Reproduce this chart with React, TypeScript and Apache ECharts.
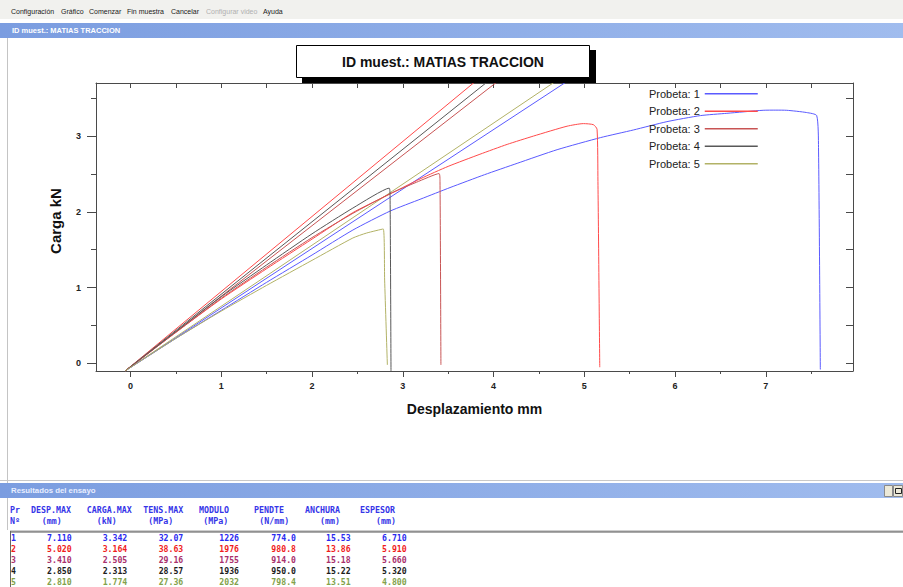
import React, { useEffect, useRef } from 'react';
import * as echarts from 'echarts';

// ---------- data ----------
const seriesNames = ['Probeta: 1', 'Probeta: 2', 'Probeta: 3', 'Probeta: 4', 'Probeta: 5'];
const seriesColors = ['#5a5aff', '#ff4a4a', '#c85454', '#585858', '#b2b266'];

// measured curves [displacement mm, load kN]
const curve1 = [[-0.06, -0.1], [0.5, 0.33], [1.0, 0.7], [1.5, 1.07], [2.0, 1.43], [2.45, 1.76], [2.86, 2.01], [3.2, 2.17], [3.52, 2.32], [3.9, 2.49], [4.26, 2.64], [4.7, 2.82], [5.18, 2.98], [5.54, 3.08], [5.91, 3.19], [6.28, 3.27], [6.57, 3.3], [6.97, 3.34], [7.11, 3.342], [7.23, 3.34], [7.45, 3.31], [7.56, 3.27], [7.58, 2.85], [7.6, -0.08]];
const curve2 = [[-0.06, -0.1], [0.5, 0.41], [1.0, 0.85], [1.5, 1.25], [2.0, 1.64], [2.45, 1.99], [2.8, 2.2], [3.2, 2.44], [3.5, 2.6], [3.85, 2.76], [4.15, 2.89], [4.44, 3.0], [4.81, 3.13], [4.99, 3.164], [5.1, 3.15], [5.14, 3.09], [5.15, 2.4], [5.17, -0.05]];
const curve3 = [[-0.06, -0.1], [0.5, 0.41], [1.0, 0.86], [1.5, 1.27], [2.0, 1.66], [2.45, 1.98], [2.86, 2.24], [3.15, 2.39], [3.4, 2.505], [3.41, 2.4], [3.42, -0.02]];
const curve4 = [[-0.06, -0.1], [0.5, 0.42], [1.0, 0.88], [1.5, 1.3], [2.0, 1.71], [2.45, 2.05], [2.85, 2.313], [2.86, 2.2], [2.87, -0.1]];
const curve5 = [[-0.06, -0.1], [0.5, 0.33], [1.0, 0.69], [1.5, 1.03], [2.0, 1.36], [2.45, 1.655], [2.6, 1.72], [2.785, 1.774], [2.8, 1.1], [2.83, -0.02]];
const curves = [curve1, curve2, curve3, curve4, curve5];

// slope (modulus) lines, start and a point beyond the top of the plot
const slope1 = [[-0.06, -0.1], [4.91, 3.8]];
const slope2 = [[-0.06, -0.1], [3.88, 3.8]];
const slope3 = [[-0.06, -0.1], [4.13, 3.8]];
const slope4 = [[-0.06, -0.1], [4.02, 3.8]];
const slope5 = [[-0.06, -0.1], [4.78, 3.8]];
const slopes = [slope1, slope2, slope3, slope4, slope5];

const xTicks = [0, 1, 2, 3, 4, 5, 6, 7];
const xMinorTicks = [0.5, 1.5, 2.5, 3.5, 4.5, 5.5, 6.5, 7.5];
const xTopTicks = [0, 0.5, 1, 1.5, 2, 2.5, 3, 3.5, 4, 4.5, 5, 5.5, 6, 6.5, 7, 7.5];
const yTicks = [0, 1, 2, 3];
const yMinorTicks = [0.5, 1.5, 2.5, 3.5];
const yRightTicks = [0, 0.5, 1, 1.5, 2, 2.5, 3, 3.5];

const chartTitle = 'ID muest.: MATIAS TRACCION';
const windowTitle = 'ID muest.: MATIAS TRACCION';
const xName = 'Desplazamiento mm';
const yName = 'Carga kN';
const menuItems = ['Configuración', 'Gráfico', 'Comenzar', 'Fin muestra', 'Cancelar', 'Configurar video', 'Ayuda'];
const menuEnabled = [true, true, true, true, true, false, true];
const resultsTitle = 'Resultados del ensayo';

const tableHead1 = ['Pr', 'DESP.MAX', 'CARGA.MAX', 'TENS.MAX', 'MODULO', 'PENDTE', 'ANCHURA', 'ESPESOR'];
const tableHead2 = ['Nº', '(mm)', '(kN)', '(MPa)', '(MPa)', '(N/mm)', '(mm)', '(mm)'];
const rowIds = ['1', '2', '3', '4', '5'];
const despMax = [7.11, 5.02, 3.41, 2.85, 2.81];
const cargaMax = [3.342, 3.164, 2.505, 2.313, 1.774];
const tensMax = [32.07, 38.63, 29.16, 28.57, 27.36];
const modulo = [1226, 1976, 1755, 1936, 2032];
const pendte = [774.0, 980.8, 914.0, 950.0, 798.4];
const anchura = [15.53, 13.86, 15.18, 15.22, 13.51];
const espesor = [6.71, 5.91, 5.66, 5.32, 4.8];
const tableColumns = [despMax, cargaMax, tensMax, modulo, pendte, anchura, espesor];
const columnDigits = [3, 3, 2, 0, 1, 2, 3];
const rowColors = ['#2a2af0', '#f01c1c', '#a8306c', '#1c1c1c', '#82a24a'];

// ---------- layout (positions only) ----------
const menuX = [11, 61, 89, 127, 171, 206, 263];
const head1X = [10, 31, 86.7, 143.3, 199, 254, 305, 360];
const head2X = [10, 41.7, 96.7, 148.3, 203.3, 259.3, 320, 376];
const colRightX = [71.7, 127.3, 183.3, 239, 296, 350.7, 406.7];
const rowY0 = 538;
const rowStep = 11;

export default function App() {
  const ref = useRef<HTMLDivElement>(null);

  useEffect(() => {
    if (!ref.current) return;
    const chart = echarts.init(ref.current, undefined, { renderer: 'svg' });

    const barGradient = () =>
      new echarts.graphic.LinearGradient(0, 0, 1, 0, [
        { offset: 0, color: '#7b9de0' },
        { offset: 1, color: '#a0bcee' },
      ]);

    const monoFont = 'DejaVu Sans Mono';
    const graphics: any[] = [];

    // menu bar
    graphics.push({ type: 'rect', shape: { x: 0, y: 0, width: 903, height: 19 }, style: { fill: '#f1f1ee' } });
    menuItems.forEach((m, i) => {
      graphics.push({
        type: 'text', x: menuX[i], y: 11,
        style: { text: m, fontSize: 7, fontFamily: 'Liberation Sans', fill: menuEnabled[i] ? '#1a1a1a' : '#b0b0b0', verticalAlign: 'middle', align: 'left' },
      });
    });
    // window title bar
    graphics.push({ type: 'rect', shape: { x: 0, y: 23, width: 903, height: 15 }, style: { fill: barGradient() } });
    graphics.push({
      type: 'text', x: 12, y: 30.5,
      style: { text: windowTitle, fontSize: 7.5, fontWeight: 'bold', fontFamily: 'Liberation Sans', fill: '#ffffff', verticalAlign: 'middle' },
    });
    // left window border
    graphics.push({ type: 'line', shape: { x1: 7.5, y1: 38, x2: 7.5, y2: 530 }, style: { stroke: '#c4c4c4', lineWidth: 1 } });

    // chart title box with shadow
    graphics.push({ type: 'rect', z: 100, shape: { x: 302, y: 50, width: 294, height: 33 }, style: { fill: '#000000' } });
    graphics.push({ type: 'rect', z: 101, shape: { x: 296.5, y: 45.5, width: 293, height: 32 }, style: { fill: '#ffffff', stroke: '#000000', lineWidth: 1 } });
    graphics.push({
      type: 'text', z: 102, x: 443, y: 62,
      style: { text: chartTitle, fontSize: 14, fontWeight: 'bold', fontFamily: 'Liberation Sans', fill: '#111111', align: 'center', verticalAlign: 'middle' },
    });

    // results panel
    graphics.push({ type: 'line', shape: { x1: 0, y1: 480.5, x2: 903, y2: 480.5 }, style: { stroke: '#c8c8c8', lineWidth: 1 } });
    graphics.push({ type: 'rect', shape: { x: 0, y: 483, width: 903, height: 15 }, style: { fill: barGradient() } });
    graphics.push({
      type: 'text', x: 11, y: 490.5,
      style: { text: resultsTitle, fontSize: 7.8, fontWeight: 'bold', fontFamily: 'Liberation Sans', fill: '#e8eeff', verticalAlign: 'middle' },
    });
    graphics.push({ type: 'rect', shape: { x: 884.5, y: 485.5, width: 8, height: 11 }, style: { fill: '#ece9d8', stroke: '#8a8a8a', lineWidth: 1 } });
    graphics.push({ type: 'rect', shape: { x: 893.5, y: 485.5, width: 9, height: 11 }, style: { fill: '#ece9d8', stroke: '#8a8a8a', lineWidth: 1 } });
    graphics.push({ type: 'rect', shape: { x: 895.5, y: 488.5, width: 6, height: 5 }, style: { fill: 'none', stroke: '#222', lineWidth: 1 } });

    tableHead1.forEach((h, i) => {
      graphics.push({
        type: 'text', x: head1X[i], y: 509.5,
        style: { text: h, fontSize: 8.3, fontWeight: 'bold', fontFamily: monoFont, fill: '#3535e8', verticalAlign: 'middle' },
      });
    });
    tableHead2.forEach((h, i) => {
      graphics.push({
        type: 'text', x: head2X[i], y: 521,
        style: { text: h, fontSize: 8.3, fontWeight: 'bold', fontFamily: monoFont, fill: '#3535e8', verticalAlign: 'middle' },
      });
    });
    graphics.push({ type: 'rect', shape: { x: 10, y: 530.5, width: 893, height: 1 }, style: { fill: '#a0a0a0' } });
    graphics.push({ type: 'rect', shape: { x: 10, y: 531.5, width: 893, height: 1 }, style: { fill: '#555555' } });
    graphics.push({ type: 'line', shape: { x1: 10.5, y1: 531, x2: 10.5, y2: 587 }, style: { stroke: '#666666', lineWidth: 1 } });

    rowIds.forEach((id, r) => {
      const y = rowY0 + r * rowStep;
      graphics.push({
        type: 'text', x: 11, y,
        style: { text: id, fontSize: 8.2, fontWeight: 'bold', fontFamily: monoFont, fill: rowColors[r], verticalAlign: 'middle' },
      });
      tableColumns.forEach((col, c) => {
        graphics.push({
          type: 'text', x: colRightX[c], y,
          style: { text: col[r].toFixed(columnDigits[c]), fontSize: 8.2, fontWeight: 'bold', fontFamily: monoFont, fill: rowColors[r], align: 'right', verticalAlign: 'middle' },
        });
      });
    });

    const axisColor = '#4a4a4a';
    const xMin = -0.38, xMax = 7.96, yMin = -0.1, yMax = 3.7;
    const baseAxis = {
      type: 'value',
      splitLine: { show: false },
      axisLabel: { show: false },
    };

    const series: any[] = [];
    curves.forEach((c, i) => {
      series.push({
        type: 'line', name: seriesNames[i], data: c, showSymbol: false, symbol: 'none', smooth: 0.2,
        color: seriesColors[i], lineStyle: { width: 1, color: seriesColors[i] }, clip: true, z: 3,
      });
    });
    slopes.forEach((s, i) => {
      series.push({
        type: 'line', name: seriesNames[i], data: s, showSymbol: false, symbol: 'none',
        color: seriesColors[i], lineStyle: { width: 1, color: seriesColors[i] }, clip: true, z: 2,
      });
    });

    chart.setOption({
      animation: false,
      backgroundColor: '#ffffff',
      grid: { left: 96, top: 83, width: 757, height: 288, containLabel: false },
      xAxis: [
        {
          ...baseAxis, min: xMin, max: xMax, position: 'bottom',
          axisLine: { show: true, onZero: false, lineStyle: { color: axisColor, width: 1 } },
          axisTick: { show: true, inside: false, length: 6, customValues: xTicks, lineStyle: { color: axisColor } },
          axisLabel: { show: true, customValues: xTicks, fontSize: 9, fontWeight: 'bold', color: '#222', margin: 10, fontFamily: 'Liberation Sans' },
          name: xName, nameLocation: 'middle', nameGap: 31,
          nameTextStyle: { fontSize: 14, fontWeight: 'bold', color: '#111', fontFamily: 'Liberation Sans' },
        },
        {
          ...baseAxis, min: xMin, max: xMax, position: 'bottom',
          axisLine: { show: false, onZero: false },
          axisTick: { show: true, inside: false, length: 3, customValues: xMinorTicks, lineStyle: { color: axisColor } },
        },
        {
          ...baseAxis, min: xMin, max: xMax, position: 'top',
          axisLine: { show: true, onZero: false, lineStyle: { color: axisColor, width: 1 } },
          axisTick: { show: true, inside: true, length: 5, customValues: xTopTicks, lineStyle: { color: axisColor } },
        },
      ],
      yAxis: [
        {
          ...baseAxis, min: yMin, max: yMax, position: 'left',
          axisLine: { show: true, onZero: false, lineStyle: { color: axisColor, width: 1 } },
          axisTick: { show: true, inside: false, length: 9, customValues: yTicks, lineStyle: { color: axisColor } },
          axisLabel: { show: true, customValues: yTicks, fontSize: 9, fontWeight: 'bold', color: '#222', margin: 15, fontFamily: 'Liberation Sans' },
          name: yName, nameLocation: 'middle', nameGap: 33,
          nameTextStyle: { fontSize: 15, fontWeight: 'bold', color: '#111', fontFamily: 'Liberation Sans', padding: [0, 0, 0, 12] },
        },
        {
          ...baseAxis, min: yMin, max: yMax, position: 'left',
          axisLine: { show: false, onZero: false },
          axisTick: { show: true, inside: false, length: 5, customValues: yMinorTicks, lineStyle: { color: axisColor } },
        },
        {
          ...baseAxis, min: yMin, max: yMax, position: 'right',
          axisLine: { show: true, onZero: false, lineStyle: { color: axisColor, width: 1 } },
          axisTick: { show: true, inside: true, length: 7, customValues: yRightTicks, lineStyle: { color: axisColor } },
        },
      ],
      legend: {
        show: true, orient: 'vertical', left: 649, top: 85, padding: 0, align: 'right',
        itemWidth: 53, itemHeight: 1.5, itemGap: 0, icon: 'rect', selectedMode: false,
        data: seriesNames,
        textStyle: { fontSize: 11, color: '#222', fontFamily: 'Liberation Sans', lineHeight: 17.5 },
      },
      graphic: { elements: graphics },
      series,
    });

    return () => chart.dispose();
  }, []);

  return (
    <div
      ref={ref}
      style={{ position: 'fixed', left: 0, top: 0, width: 903, height: 587, background: '#ffffff' }}
    />
  );
}
